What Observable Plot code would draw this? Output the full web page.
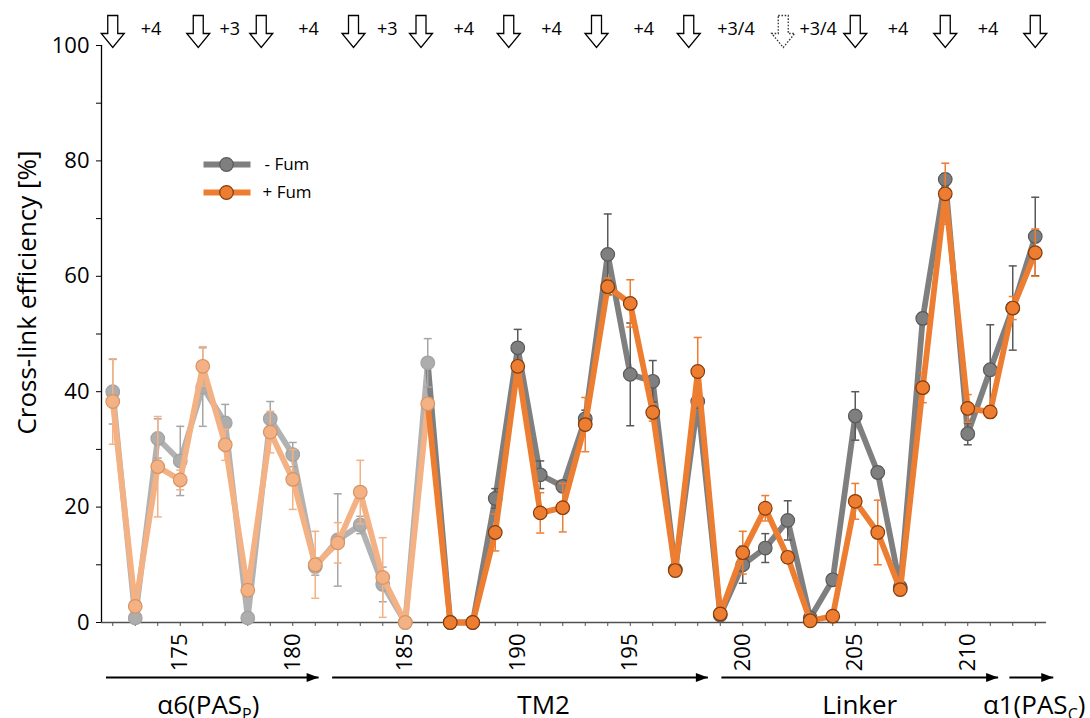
<!DOCTYPE html>
<html>
<head>
<meta charset="utf-8">
<script src="https://cdn.jsdelivr.net/npm/d3@7"></script>
<script src="https://cdn.jsdelivr.net/npm/@observablehq/plot@0.6"></script>
<style>
  html, body { margin: 0; padding: 0; background: #fff; }
  #chart svg { display: block; }
</style>
</head>
<body>
<div id="chart"></div>
<script>
// ---------------- data ----------------
const residues = [172,173,174,175,176,177,178,179,180,181,182,183,184,185,186,187,188,189,190,191,192,193,194,195,196,197,198,199,200,201,202,203,204,205,206,207,208,209,210,211,212,213];
const minusFum = [40.0,0.8,31.9,28.0,40.8,34.6,0.8,35.3,29.1,9.7,14.3,16.9,6.6,0,45.0,0,0,21.5,47.6,25.6,23.6,35.3,63.8,43.0,41.8,9.2,38.3,1.3,10.0,12.9,17.7,0.8,7.4,35.8,26.0,6.1,52.7,76.8,32.7,43.8,54.5,66.9];
const minusFumErr = [5.6,0.5,3.4,6.0,6.8,3.2,0.5,3.0,2.1,1.5,8.0,1.5,3.0,0,4.2,0,0,1.7,3.2,2.4,1.0,1.5,7.0,8.9,3.6,1.2,1.0,0.5,3.2,2.5,3.4,0.5,1.0,4.2,1.0,1.0,1.0,1.0,1.9,7.8,7.3,6.8];
const plusFum = [38.3,2.8,27.0,24.7,44.4,30.8,5.6,33.0,24.8,10.0,13.8,22.6,7.8,0,37.9,0,0,15.6,44.4,19.0,19.9,34.3,58.2,55.3,36.4,9.0,43.5,1.5,12.1,19.8,11.3,0.3,1.1,21.0,15.6,5.7,40.7,74.3,37.1,36.5,54.5,64.1];
const plusFumErr = [7.4,0.5,8.7,1.7,3.4,2.7,1.0,3.6,5.2,5.8,3.5,5.5,6.9,0,1.0,0,0,3.2,1.0,3.5,4.2,4.7,1.5,4.1,1.5,1.0,5.9,0.5,3.7,2.2,1.0,0.3,0.5,3.1,5.6,1.0,2.6,5.3,2.4,1.0,2.0,4.1];
const fadedThrough = 186;           // residues drawn in pale colours

const yTicks = [0,20,40,60,80,100];
const yMinorTicks = [10,30,50,70,90];
const xTickLabels = [175,180,185,190,195,200,205,210];

// helix-face arrows and spacing annotations along the top
const helixArrowPos = [172,175.8,178.6,182.7,185.7,189.6,193.5,197.6,201.8,205,209,213];
const helixArrowDotted = [false,false,false,false,false,false,false,false,true,false,false,false];
const spacingLabels = ["+4","+3","+4","+3","+4","+4","+4","+3/4","+3/4","+4","+4"];
const spacingLabelPos = [173.7,177.2,180.7,184.2,187.6,191.5,195.6,199.7,203.35,206.9,210.9];

// domain arrows along the bottom
const domainNames = ["α6(PAS_P)","TM2","Linker","α1(PAS_C)"];
const domainStart = [171.7,181.75,199.05,211.85];
const domainEnd = [181.15,198.45,211.35,213.8];
const domainLabelPos = [176.25,191.15,205.2,212.95];

const seriesNames = ["- Fum","+ Fum"];

// ---------------- tables built from the arrays ----------------
const rows = residues.map((r, i) => ({
  r, minus: minusFum[i], minusErr: minusFumErr[i], plus: plusFum[i], plusErr: plusFumErr[i]
}));
const fadedRows = rows.filter(d => d.r <= fadedThrough);
const solidRows = rows.filter(d => d.r > fadedThrough);
const solidLineRows = rows.filter(d => d.r >= fadedThrough);
const helixArrows = helixArrowPos.map((x, i) => ({x, dotted: helixArrowDotted[i]}));
const spacings = spacingLabels.map((t, i) => ({t, x: spacingLabelPos[i]}));
const domains = domainNames.map((name, i) => ({name, start: domainStart[i], end: domainEnd[i], at: domainLabelPos[i]}));

// ---------------- custom symbols ----------------
const capSymbol = {draw(ctx) { ctx.moveTo(-4, 0); ctx.lineTo(4, 0); }};
const downArrow = {draw(ctx) {
  ctx.moveTo(-5, -16); ctx.lineTo(5, -16); ctx.lineTo(5, 2); ctx.lineTo(11.5, 2);
  ctx.lineTo(0, 16); ctx.lineTo(-11.5, 2); ctx.lineTo(-5, 2); ctx.closePath();
}};
const headSymbol = {draw(ctx) { ctx.moveTo(0, 0); ctx.lineTo(-12, -4.5); ctx.lineTo(-12, 4.5); ctx.closePath(); }};
const legendLine = {draw(ctx) { ctx.moveTo(-23, 0); ctx.lineTo(24, 0); }};

const GRAY = {line: "#7f7f7f", fill: "#7f7f7f", edge: "#595959", err: "#595959"};
const GRAY_PALE = {line: "#b2b2b2", fill: "#adadad", edge: "#a2a2a2", err: "#a6a6a6"};
const ORANGE = {line: "#ed7d31", fill: "#ed7d31", edge: "#843c0c", err: "#ed7d31"};
const ORANGE_PALE = {line: "#f4b183", fill: "#f4b183", edge: "#d59467", err: "#f4b183"};

function lineMarks(key, data, c) {
  return Plot.line(data, {x: "r", y: key, stroke: c.line, strokeWidth: 5.8, strokeLinejoin: "round", curve: "linear"});
}
function errMarks(key, errKey, data, c) {
  const d = data.filter(v => v[errKey] > 0);
  return [
    Plot.ruleX(d, {x: "r", y1: v => v[key] - v[errKey], y2: v => v[key] + v[errKey], stroke: c.err, strokeWidth: 1.5}),
    Plot.dot(d, {x: "r", y: v => v[key] + v[errKey], symbol: capSymbol, fill: "none", stroke: c.err, strokeWidth: 1.5}),
    Plot.dot(d, {x: "r", y: v => v[key] - v[errKey], symbol: capSymbol, fill: "none", stroke: c.err, strokeWidth: 1.5})
  ];
}
function dotMarks(key, data, c) {
  return Plot.dot(data, {x: "r", y: key, r: 6.8, fill: c.fill, stroke: c.edge, strokeWidth: 1.2});
}

const chart = Plot.plot({
  width: 1090,
  height: 718,
  marginLeft: 101,
  marginRight: 44,
  marginTop: 45,
  marginBottom: 96,
  x: {domain: [171.5, 213.5]},
  y: {domain: [0, 100]},
  style: {fontFamily: "'Open Sans', sans-serif", fontSize: "18px", color: "black", background: "white", overflow: "visible"},
  marks: [
    // axes
    Plot.axisY(yTicks, {tickSize: 5, tickPadding: 7, fontSize: 22, label: null, stroke: "black"}),
    Plot.axisY(yMinorTicks, {tickSize: 5, tickFormat: () => "", label: null, stroke: "black"}),
    Plot.ruleX([171.5], {stroke: "black", strokeWidth: 1.3}),
    Plot.axisX(residues, {tickSize: 4, tickFormat: () => "", label: null, stroke: "#505050"}),
    Plot.ruleY([0], {stroke: "#505050", strokeWidth: 1.5}),
    Plot.text(xTickLabels, {x: d => d, frameAnchor: "bottom", rotate: -90, textAnchor: "end", lineAnchor: "middle", dy: 11, fontSize: 22, fill: "black"}),
    Plot.text(["Cross-link efficiency [%]"], {frameAnchor: "left", rotate: -90, textAnchor: "middle", lineAnchor: "middle", dx: -74, dy: -41.5, fontSize: 26, fill: "black"}),

    // - Fum series
    lineMarks("minus", fadedRows, GRAY_PALE),
    lineMarks("minus", solidLineRows, GRAY),
    ...errMarks("minus", "minusErr", fadedRows, GRAY_PALE),
    ...errMarks("minus", "minusErr", solidRows, GRAY),
    dotMarks("minus", fadedRows, GRAY_PALE),
    dotMarks("minus", solidRows, GRAY),

    // + Fum series
    lineMarks("plus", fadedRows, ORANGE_PALE),
    lineMarks("plus", solidLineRows, ORANGE),
    ...errMarks("plus", "plusErr", fadedRows, ORANGE_PALE),
    ...errMarks("plus", "plusErr", solidRows, ORANGE),
    dotMarks("plus", fadedRows, ORANGE_PALE),
    dotMarks("plus", solidRows, ORANGE),

    // legend
    Plot.dot([0], {frameAnchor: "top-left", dx: 125, dy: 119, symbol: legendLine, fill: "none", stroke: GRAY.line, strokeWidth: 5.8}),
    Plot.dot([0], {frameAnchor: "top-left", dx: 125, dy: 119, r: 6.8, fill: GRAY.fill, stroke: GRAY.edge, strokeWidth: 1.2}),
    Plot.dot([0], {frameAnchor: "top-left", dx: 125, dy: 147, symbol: legendLine, fill: "none", stroke: ORANGE.line, strokeWidth: 5.8}),
    Plot.dot([0], {frameAnchor: "top-left", dx: 125, dy: 147, r: 6.8, fill: ORANGE.fill, stroke: ORANGE.edge, strokeWidth: 1.2}),
    Plot.text([seriesNames[0]], {frameAnchor: "top-left", dx: 163, dy: 119, textAnchor: "start", lineAnchor: "middle", fontSize: 17, fill: "black"}),
    Plot.text([seriesNames[1]], {frameAnchor: "top-left", dx: 161, dy: 147, textAnchor: "start", lineAnchor: "middle", fontSize: 17, fill: "black"}),

    // top helix arrows and spacing labels
    Plot.dot(helixArrows.filter(d => !d.dotted), {x: "x", frameAnchor: "top", dy: -14, symbol: downArrow, fill: "white", stroke: "black", strokeWidth: 1.3}),
    Plot.dot(helixArrows.filter(d => d.dotted), {x: "x", frameAnchor: "top", dy: -14, symbol: downArrow, fill: "white", stroke: "#333", strokeWidth: 1.3, strokeDasharray: "1.6,1.6"}),
    Plot.text(spacings, {x: "x", text: "t", frameAnchor: "top", dy: -16, lineAnchor: "middle", fontSize: 18, fill: "black"}),

    // bottom domain arrows and labels
    Plot.link(domains, {x1: "start", x2: "end", y1: () => 0, y2: () => 0, dy: 55, stroke: "black", strokeWidth: 2}),
    Plot.dot(domains, {x: "end", y: () => 0, dy: 55, symbol: headSymbol, fill: "black", stroke: "none"}),
    Plot.text(domains, {x: "at", text: "name", frameAnchor: "bottom", dy: 83, lineAnchor: "middle", fontSize: 26, fill: "black", className: "domain-labels"})
  ]
});

// render subscripts in the domain labels (e.g. PAS_P -> PAS with subscript P)
d3.select(chart).selectAll(".domain-labels text").each(function() {
  const s = this.textContent;
  const m = s.match(/^(.*)_(\w)(.*)$/);
  if (!m) return;
  const el = d3.select(this);
  el.text(null);
  el.append("tspan").text(m[1]);
  el.append("tspan").attr("dy", 6).attr("font-size", 16).text(m[2]);
  el.append("tspan").attr("dy", -6).text(m[3]);
});

document.getElementById("chart").appendChild(chart);
</script>
</body>
</html>
